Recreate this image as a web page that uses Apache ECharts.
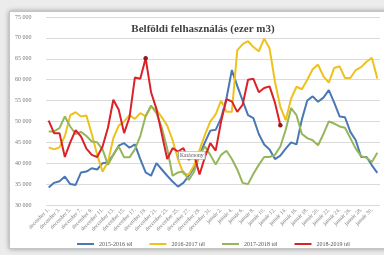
<!DOCTYPE html>
<html>
<head>
<meta charset="utf-8">
<script src="https://cdn.jsdelivr.net/npm/echarts@6/dist/echarts.min.js"></script>
<style>
  html, body { margin: 0; padding: 0; background: #ececec; }
  #frame {
    position: absolute; left: 9px; top: 11px; width: 385px; height: 236px;
    background: #fff; border: 1px solid #c4c4c4;
    box-shadow: 0 0 5px rgba(0, 0, 0, 0.35);
  }
  #chart { position: absolute; left: 0; top: 0; width: 384px; height: 255px; }
</style>
</head>
<body>
<div id="frame"></div>
<div id="chart"></div>
<script>
// napok: december 1-31, január 1-31
const decDays = Array.from({ length: 31 }, (_, i) => i + 1)
const janDays = Array.from({ length: 31 }, (_, i) => i + 1)
const categories = decDays.map(d => 'december ' + d + '.').concat(janDays.map(d => 'január ' + d + '.'))

const seriesNames = ['2015-2016 tél', '2016-2017 tél', '2017-2018 tél', '2018-2019 tél']

const winter1516 = [
  34200, 35300, 35700, 36800, 35000, 34800, 37800, 38000, 38800, 38500,
  40000, 40200, 42000, 44200, 44800, 43700, 44500, 41000, 37800, 37000,
  40000, 38500, 37000, 35600, 34400, 35300, 37000, 39000, 42000, 45000,
  47800, 48000, 50800, 55500, 62300, 58500, 55000, 51500, 50800, 47000,
  44500, 43300, 41000, 41800, 43500, 45000, 44500, 50500, 55000, 56000,
  54700, 55700, 57500, 54500, 51200, 51000, 47500, 45500, 41500, 41500,
  39500, 37700
]
const winter1617 = [
  43800, 43300, 43800, 46500, 51500, 52200, 51200, 51400, 47000, 42000,
  38000, 40300, 46000, 49000, 50000, 51500, 50600, 52000, 51200, 53500,
  52800, 51000, 49000, 45500, 41000, 37500, 37300, 39500, 43200, 46800,
  50000, 51700, 55000, 52300, 52300, 67000, 68500, 69200, 67800, 66800,
  69800, 67500, 59500, 53500, 50300, 55500, 58300, 57700, 60000, 62500,
  63600, 60800, 59300, 62800, 63200, 60400, 60400, 62300, 63000, 64300,
  65200, 60300
]
const winter1718 = [
  47600, 47600, 48400, 51200, 48800, 47000, 47500, 46500, 45200, 45000,
  43300, 39600, 42000, 44000, 41400, 41400, 43300, 46500, 51300, 53800,
  52000, 48500, 43500, 37000, 37800, 38000, 36000, 38000, 42000, 44000,
  42000, 39700, 42000, 43000, 41000, 38500, 35300, 35000, 37500, 39600,
  41500, 41500, 42000, 44000, 48000, 53200, 51500, 47000, 46000, 45500,
  44300, 47000, 50000, 49500, 48800, 48500, 46000, 43500, 41700, 41300,
  40300, 42500
]
const winter1819 = [
  50200, 47200, 47200, 41500, 45000, 47900, 46400, 43500, 42000, 41500,
  44000, 48500, 55200, 52800, 47200, 51000, 60500, 60200, 65100, 57000,
  53000, 47000, 41000, 43600, 42800, 43600, 40800, 42000, 37300, 41500,
  44800, 43000, 50000, 55300, 54800, 52300, 54000, 60000, 60200, 57000,
  58000, 58400, 54500, 49100
]
const redMarked = [18, 43]
const noteText = 'Karácsony'
const notePoint = [26, 41900]

const colors = ['#4a78b5', '#eec21e', '#95b65a', '#d92229']
const serif = 'Liberation Serif'

const chart = echarts.init(document.getElementById('chart'))

const lineSeries = (name, data, color) => ({
  name,
  type: 'line',
  data,
  showSymbol: false,
  smooth: false,
  lineStyle: { width: 2, color },
  itemStyle: { color },
  emphasis: { disabled: true },
  z: 2,
})

const red = lineSeries(seriesNames[3], winter1819, colors[3])
red.showSymbol = true
red.showAllSymbol = true
red.symbol = 'circle'
red.symbolSize = (val, params) => (redMarked.includes(params.dataIndex) ? 4.5 : 0)
red.itemStyle = { color: '#8c1a1e' }
red.z = 3
red.markPoint = {
  silent: true,
  symbol: 'rect',
  symbolSize: [27, 8],
  symbolOffset: [3, 0],
  itemStyle: { color: '#fdfdfd', borderColor: '#9a9a9a', borderWidth: 0.6 },
  label: { show: true, formatter: noteText, color: '#555', fontSize: 5.5, fontFamily: serif },
  data: [{ coord: notePoint }],
}

const option = {
  animation: false,
  backgroundColor: 'transparent',
  color: colors,
  title: {
    text: 'Belföldi felhasználás (ezer m3)',
    left: 198,
    textAlign: 'center',
    top: 19,
    textStyle: { fontFamily: serif, fontWeight: 'bold', fontSize: 11, color: '#404040' },
  },
  grid: { left: 46, right: 4, top: 17, height: 188, containLabel: false },
  legend: {
    data: seriesNames.map((name, i) => ({ name, itemStyle: { color: colors[i] } })),
    left: 72,
    top: 236,
    icon: 'rect',
    itemWidth: 17,
    itemHeight: 2,
    itemGap: 17,
    textStyle: { fontFamily: serif, fontSize: 6, color: '#555' },
  },
  xAxis: {
    type: 'category',
    data: categories,
    boundaryGap: true,
    axisLine: { show: false },
    axisTick: { show: false },
    axisLabel: {
      interval: 1,
      rotate: 45,
      margin: 4,
      fontFamily: serif,
      fontSize: 5.5,
      color: '#777',
    },
  },
  yAxis: {
    type: 'value',
    min: 30000,
    max: 75000,
    interval: 5000,
    axisLine: { show: false },
    axisTick: { show: false },
    splitLine: { lineStyle: { color: '#dadada', width: 1 } },
    axisLabel: {
      align: 'left',
      margin: 31,
      fontFamily: serif,
      fontSize: 6,
      color: '#777',
      formatter: v => String(v).replace(/\B(?=(\d{3})+(?!\d))/g, ' '),
    },
  },
  series: [
    lineSeries(seriesNames[0], winter1516, colors[0]),
    lineSeries(seriesNames[1], winter1617, colors[1]),
    lineSeries(seriesNames[2], winter1718, colors[2]),
    red,
  ],
}

chart.setOption(option)
</script>
</body>
</html>
